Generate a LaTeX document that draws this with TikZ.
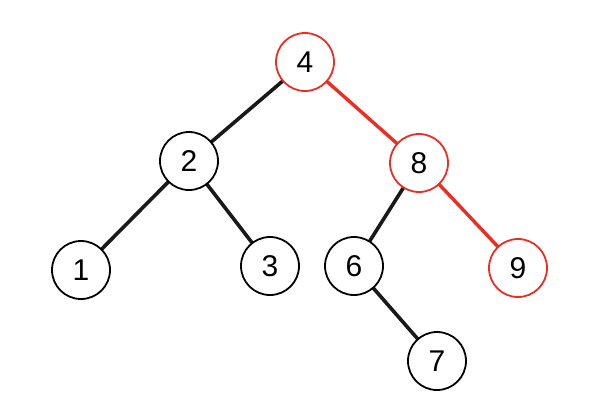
\documentclass[tikz,border=0pt]{standalone}
\usepackage{fontspec}
\setmainfont{Liberation Sans}
\definecolor{treered}{RGB}{236,45,35}
\tikzset{
  vert/.style={circle,draw=black,line width=1.8pt,fill=white,minimum size=58pt,inner sep=0pt,font=\fontsize{30pt}{30pt}\selectfont},
  redvert/.style={vert,draw=treered},
  edge/.style={line width=3.6pt,black!90},
  rededge/.style={line width=3.4pt,treered}}
\begin{document}
\begin{tikzpicture}[x=1pt,y=-1pt]
\useasboundingbox (0,0) rectangle (594,416);
\coordinate (c4) at (305,62);
\coordinate (c2) at (189,161);
\coordinate (c8) at (419,163);
\coordinate (c1) at (81,270);
\coordinate (c3) at (270,266);
\coordinate (c6) at (354,266);
\coordinate (c9) at (518,268);
\coordinate (c7) at (437,361);
\draw[edge] (c4) -- (c2);
\draw[rededge] (c4) -- (c8);
\draw[edge] (c2) -- (c1);
\draw[edge] (c2) -- (c3);
\draw[edge] (c8) -- (c6);
\draw[rededge] (c8) -- (c9);
\draw[edge] (c6) -- (c7);
\node[redvert] (n4) at (c4) {4};
\node[vert] (n2) at (c2) {2};
\node[redvert] (n8) at (c8) {8};
\node[vert] (n1) at (c1) {1};
\node[vert] (n3) at (c3) {3};
\node[vert] (n6) at (c6) {6};
\node[redvert] (n9) at (c9) {9};
\node[vert] (n7) at (c7) {7};
\end{tikzpicture}
\end{document}
